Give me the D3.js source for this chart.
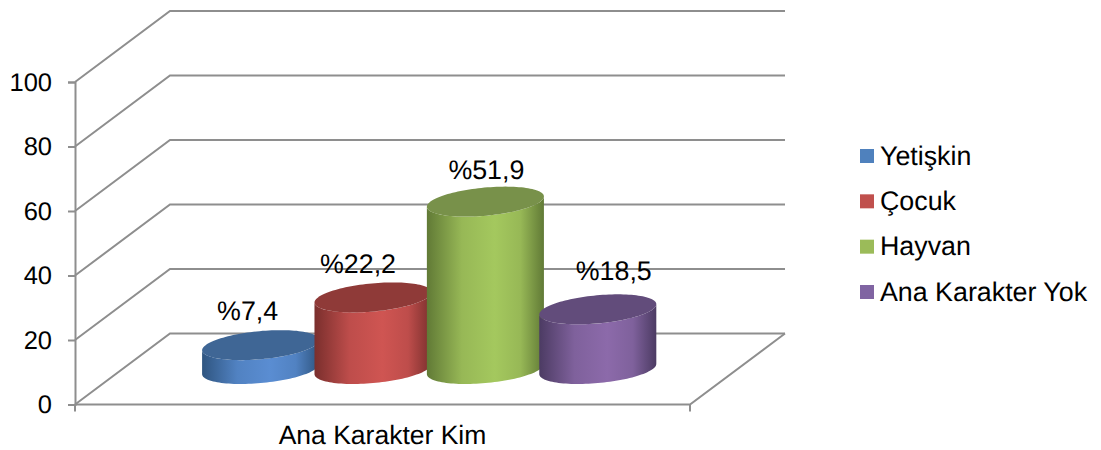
<!DOCTYPE html>
<html><head><meta charset="utf-8">
<script src="https://d3js.org/d3.v7.min.js"></script>
<style>html,body{margin:0;background:#fff}svg{display:block}text{font-family:"Liberation Sans",Arial,sans-serif;fill:#000;text-rendering:geometricPrecision}</style>
</head><body><svg id="c" width="1101" height="450"></svg>
<script>
const categories = ["Ana Karakter Kim"];
const seriesNames = ["Yetişkin", "Çocuk", "Hayvan", "Ana Karakter Yok"];
const seriesValues = [7.4, 22.2, 51.9, 18.5];
const valueLabels = ["%7,4", "%22,2", "%51,9", "%18,5"];
const yTicks = [0, 20, 40, 60, 80, 100];

const sideEdge = ["#2f5580", "#7a2f2d", "#617a36", "#4c3b63"];
const sideMid = ["#5a8dd2", "#cf5552", "#a4c85e", "#8c6aaa"];
const topFill = ["#3f6695", "#8f3a38", "#78914a", "#624c7b"];
const legendFill = ["#4f81bd", "#c0504d", "#9bbb59", "#8064a2"];

const svg = d3.select("#c");
const fs = 26.8;
const depth = [95, -71];
const y = d3.scaleLinear().domain([0, 100]).range([404.5, 82]);
const x0 = d3.scaleBand().domain(categories).range([75, 690]).paddingOuter(0.184);
const x1 = d3.scaleBand().domain(seriesNames).range([x0(categories[0]), x0(categories[0]) + x0.bandwidth()]);
const barShift = depth[0] / 2 - 0.8;

// walls and floor
const grid = svg.append("g").attr("fill", "none").attr("stroke", "#8e8e8e").attr("stroke-width", 2);
const line = d3.line();
yTicks.forEach(v => {
  grid.append("path").attr("d", line([
    [x0.range()[0], y(v)],
    [x0.range()[0] + depth[0], y(v) + depth[1]],
    [x0.range()[1] + depth[0], y(v) + depth[1]]
  ]));
});
grid.append("path").attr("d", line([
  [x0.range()[0], y(0)], [x0.range()[1], y(0)],
  [x0.range()[1] + depth[0], y(0) + depth[1]]
]));
// category-axis ticks
[x0.range()[0], x0.range()[1]].forEach(px => {
  grid.append("path").attr("d", line([[px, y(0)], [px, y(0) + 7]]));
});

// value axis
const yAxis = svg.append("g").attr("transform", `translate(${x0.range()[0]},0)`)
  .call(d3.axisLeft(y).tickValues(yTicks).tickSize(7).tickPadding(16));
yAxis.selectAll("path,line").attr("stroke", "#8e8e8e").attr("stroke-width", 2);
yAxis.selectAll("text").attr("font-size", 25.5).attr("font-family", '"Liberation Sans",Arial,sans-serif').attr("fill", "#000");

// category label
svg.append("text").attr("x", x0(categories[0]) + x0.bandwidth() / 2).attr("y", 444.4)
  .attr("text-anchor", "middle").attr("font-size", 26.5).text(categories[0]);

// cylinders
const defs = svg.append("defs");
const rx = 55, shearX = 20, ry = 15;
const pt = (cx, cy, t) => [cx + rx * Math.cos(t) + shearX * Math.sin(t), cy - ry * Math.sin(t)];
const tExtreme = Math.atan2(shearX, rx);
const smooth = d3.line().curve(d3.curveLinear);
const sample = (cx, cy, a, b, n = 60) => d3.range(n + 1).map(i => pt(cx, cy, a + (b - a) * i / n));

seriesNames.forEach((name, i) => {
  const id = "g" + i;
  const lg = defs.append("linearGradient").attr("id", id);
  [[0, sideEdge[i]], [0.3, d3.interpolateRgb(sideEdge[i], sideMid[i])(0.8)], [0.58, sideMid[i]], [0.8, d3.interpolateRgb(sideEdge[i], sideMid[i])(0.8)], [1, sideEdge[i]]]
    .forEach(s => lg.append("stop").attr("offset", s[0]).attr("stop-color", s[1]));
  const cx = x1(name) + x1.bandwidth() / 2 + barShift;
  const baseY = y(0) + depth[1] / 2;
  const topY = y(seriesValues[i]) + depth[1] / 2;
  const right = tExtreme, left = tExtreme + Math.PI;
  const side = [
    ...sample(cx, topY, left, left + Math.PI),
    ...sample(cx, baseY, right, right - Math.PI)
  ];
  svg.append("path").attr("d", smooth(side) + "Z").attr("fill", `url(#${id})`);
  svg.append("path").attr("d", smooth(sample(cx, topY, 0, 2 * Math.PI, 120)) + "Z").attr("fill", topFill[i]);
});

// data labels
const labelNudge = [[-13, -25], [-15, -24], [1, -22.5], [16, -29]];
seriesNames.forEach((name, i) => {
  const cx = x1(name) + x1.bandwidth() / 2 + barShift;
  const topY = y(seriesValues[i]) + depth[1] / 2;
  svg.append("text").attr("x", cx + labelNudge[i][0]).attr("y", topY + labelNudge[i][1])
    .attr("text-anchor", "middle").attr("font-size", fs).text(valueLabels[i]);
});

// legend
const ly = d3.scalePoint().domain(seriesNames).range([156, 292]);
const lg = svg.append("g");
seriesNames.forEach((name, i) => {
  lg.append("rect").attr("x", 860).attr("y", ly(name) - 7).attr("width", 14).attr("height", 14).attr("fill", legendFill[i]);
  lg.append("text").attr("x", 880).attr("y", ly(name) + 8.5).attr("font-size", 26.8).text(name);
});
</script></body></html>
